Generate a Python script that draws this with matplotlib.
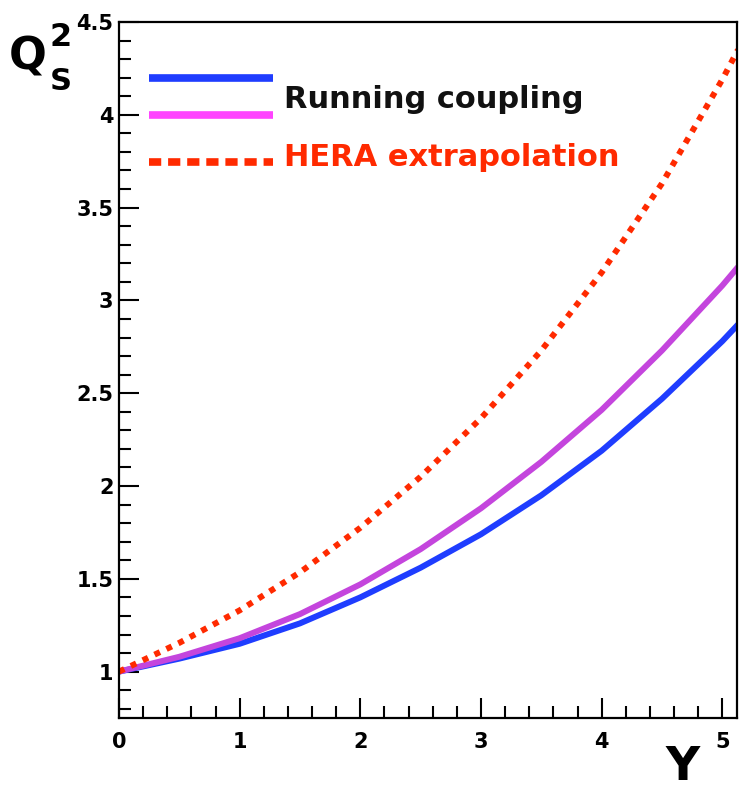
import numpy as np
import matplotlib
matplotlib.use("Agg")
import matplotlib.pyplot as plt
from matplotlib.lines import Line2D
from matplotlib.ticker import MultipleLocator

plt.rcParams['font.family'] = ['DejaVu Sans']

# Q_s^2 vs rapidity Y
Y = [0.0, 0.5, 1.0, 1.5, 2.0, 2.5, 3.0, 3.5, 4.0, 4.5, 5.0, 5.13]
q2_running = [1.0, 1.07, 1.15, 1.26, 1.40, 1.56, 1.74, 1.95, 2.19, 2.47, 2.78, 2.87]
q2_running2 = [1.0, 1.08, 1.18, 1.31, 1.47, 1.66, 1.88, 2.13, 2.41, 2.73, 3.08, 3.18]
q2_hera = [1.0, 1.155, 1.33, 1.535, 1.775, 2.05, 2.365, 2.73, 3.15, 3.63, 4.19, 4.35]

blue = "#1f3dff"
purple = "#c445dd"
pink = "#ff44ff"
red = "#ff2a00"

fig = plt.figure(figsize=(7.39, 7.90), dpi=100)
ax = fig.add_axes([0.161, 0.0911, 0.836, 0.8811])

ax.plot(Y, q2_running, color=blue, lw=4.3, solid_capstyle='butt')
ax.plot(Y, q2_running2, color=purple, lw=4.3, solid_capstyle='butt')
ax.plot(Y, q2_hera, color=red, lw=4.3, linestyle=(0, (1, 1.2)),
        dash_capstyle='butt')

ax.set_xlim(0, 5.12)
ax.set_ylim(0.75, 4.5)

ax.xaxis.set_major_locator(MultipleLocator(1))
ax.xaxis.set_minor_locator(MultipleLocator(0.2))
ax.yaxis.set_major_locator(MultipleLocator(0.5))
ax.yaxis.set_minor_locator(MultipleLocator(0.1))
ax.tick_params(which='both', direction='in', top=False, right=False,
               width=1.5, labelsize=15)
ax.tick_params(which='major', length=14.5)
ax.tick_params(which='minor', length=8.5)
ax.tick_params(axis='x', pad=10)
ax.tick_params(axis='y', pad=4)
ax.yaxis.set_major_formatter(plt.FuncFormatter(lambda v, p: f"{v:g}"))
for lab in ax.get_xticklabels() + ax.get_yticklabels():
    lab.set_fontweight('bold')
for s in ax.spines.values():
    s.set_linewidth(1.6)

# legend drawn by hand (ROOT style)
ax.add_line(Line2D([0.048, 0.249], [0.9195, 0.9195], transform=ax.transAxes,
                   color=blue, lw=5.5, solid_capstyle='butt'))
ax.add_line(Line2D([0.048, 0.249], [0.866, 0.866], transform=ax.transAxes,
                   color=pink, lw=5.5, solid_capstyle='butt'))
ax.add_line(Line2D([0.048, 0.249], [0.799, 0.799], transform=ax.transAxes,
                   color=red, lw=5.5, linestyle=(0, (1.6, 0.9)),
                   dash_capstyle='butt'))
ax.text(0.267, 0.889, "Running coupling", transform=ax.transAxes,
        fontsize=22, fontweight='bold', color='#111111', va='center', ha='left')
ax.text(0.267, 0.805, "HERA extrapolation", transform=ax.transAxes,
        fontsize=22, fontweight='bold', color=red, va='center', ha='left')

# axis titles
fig.text(9 / 739, 1 - 57 / 790, "Q", fontsize=32, fontweight='bold',
         va='center', ha='left')
fig.text(50 / 739, 1 - 38 / 790, "2", fontsize=23, fontweight='bold',
         va='center', ha='left')
fig.text(50 / 739, 1 - 82 / 790, "S", fontsize=22, fontweight='bold',
         va='center', ha='left')
fig.text(683 / 739, 1 - 768 / 790, "Y", fontsize=34, fontweight='bold',
         va='center', ha='center')

fig.savefig("out.png", dpi=100)
